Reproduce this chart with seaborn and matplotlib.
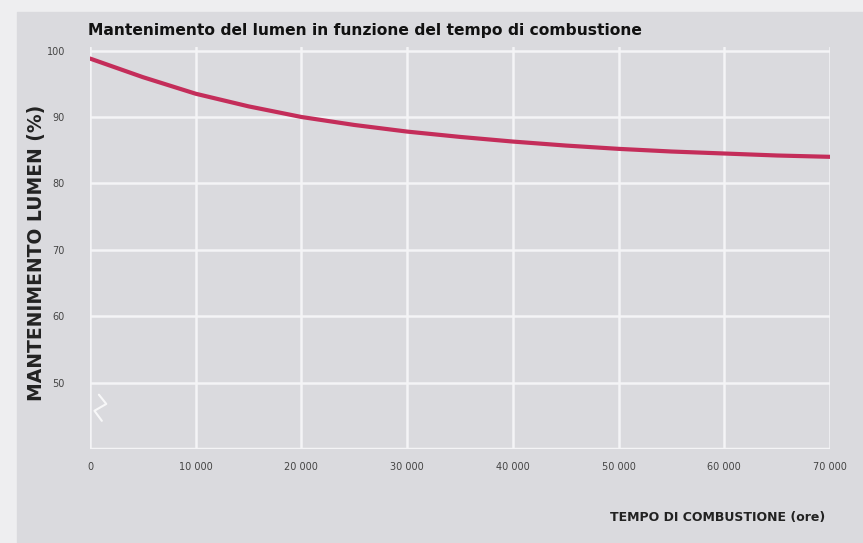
import matplotlib
matplotlib.use("Agg")
import matplotlib.pyplot as plt
import seaborn as sns
import pandas as pd
from matplotlib.patches import Rectangle

# values
ore = [0, 5000, 10000, 15000, 20000, 25000, 30000, 35000,
       40000, 45000, 50000, 55000, 60000, 65000, 70000]
lumen = [98.8, 96.0, 93.5, 91.6, 90.0, 88.8, 87.8, 87.0,
         86.3, 85.7, 85.2, 84.8, 84.5, 84.2, 84.0]
xticks = [0, 10000, 20000, 30000, 40000, 50000, 60000, 70000]
xticklabels = ["0", "10 000", "20 000", "30 000", "40 000", "50 000", "60 000", "70 000"]
yticks = [50, 60, 70, 80, 90, 100]

bg = "#dadade"
sns.set_style("white")
plt.rcParams["font.family"] = ["DejaVu Sans"]

fig = plt.figure(figsize=(8.63, 5.43), dpi=100, facecolor="#eeeef0")
fig.patches.append(Rectangle((17 / 863, 0), 1, (543 - 12) / 543,
                             transform=fig.transFigure, color=bg, zorder=-5))

# y: 40..100.6 at 6.64 px per unit, bottom at 449 px
ax = fig.add_axes([90 / 863, 94 / 543, 740 / 863, 402.4 / 543])
ax.set_facecolor(bg)
ax.set_zorder(2)

df = pd.DataFrame({"ore": ore, "lumen": lumen})
sns.lineplot(data=df, x="ore", y="lumen", ax=ax, color="#c42d5a", lw=3, zorder=3)

ax.set_xlim(0, 70000)
ax.set_ylim(40, 100.6)
ax.set_xticks(xticks)
ax.set_xticklabels(xticklabels)
ax.set_yticks(yticks)
ax.set_yticklabels([str(v) for v in yticks])
ax.grid(True, color="#f4f4f6", lw=1.8, zorder=1)
ax.axhline(40, color="#f4f4f6", lw=2.5, zorder=1)
for s in ax.spines.values():
    s.set_visible(False)
ax.tick_params(axis="both", colors="#f4f4f6", length=6, width=1.5,
               labelsize=7, labelcolor="#444444")
ax.tick_params(axis="x", pad=3)
ax.tick_params(axis="y", pad=12)

# axis break mark below 50
ax.plot([0.012, 0.022, 0.006, 0.016], [0.135, 0.112, 0.095, 0.07],
        transform=ax.transAxes, color="white", lw=1.5, alpha=0.8, clip_on=False)

ax.set_xlabel("")
ax.set_ylabel("MANTENIMENTO LUMEN (%)", fontsize=13.5, fontweight="bold",
              color="#222222")
ax.yaxis.set_label_coords(-0.06, 0.487)

fig.text(825 / 863, 1 - 517 / 543, "TEMPO DI COMBUSTIONE (ore)", ha="right",
         va="center", fontsize=9, fontweight="bold", color="#222222")
fig.text(88 / 863, 1 - 30 / 543,
         "Mantenimento del lumen in funzione del tempo di combustione",
         ha="left", va="center", fontsize=11.2, fontweight="bold", color="#111111")

fig.savefig("out.png", dpi=100, facecolor=fig.get_facecolor())
